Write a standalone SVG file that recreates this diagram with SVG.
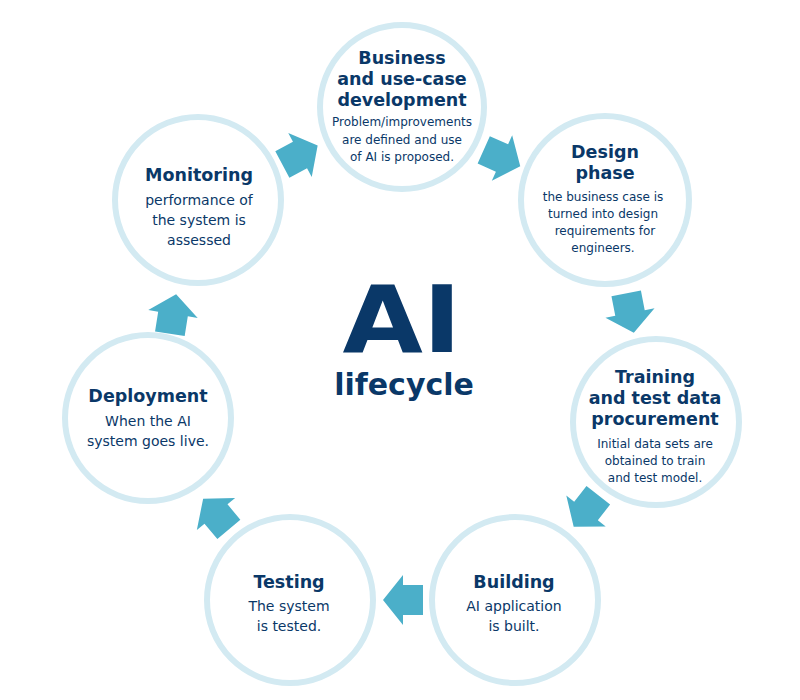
<svg xmlns="http://www.w3.org/2000/svg" width="800" height="700" viewBox="0 0 800 700">
<style>
.ring{fill:#ffffff;stroke:#d3eaf2;stroke-width:6}
.t{font-family:"DejaVu Sans",Verdana,sans-serif;font-weight:bold;font-size:17.5px;fill:#0a3868;text-anchor:middle}
.b{font-family:"DejaVu Sans",Verdana,sans-serif;font-size:12px;fill:#0a3868;text-anchor:middle}
.b14{font-family:"DejaVu Sans",Verdana,sans-serif;font-size:14px;fill:#0a3868;text-anchor:middle}
.arrow{fill:#4bafc9}
</style>
<defs>
<polygon id="arr" points="-20,-15 0,-15 0,-25 20,0 0,25 0,15 -20,15"/>
</defs>
<rect width="800" height="700" fill="#ffffff"/>
<g id="center-title">
<text x="402" y="352" font-family="DejaVu Sans,Verdana,sans-serif" font-weight="bold" font-size="92" fill="#0a3868" text-anchor="middle" textLength="119" lengthAdjust="spacingAndGlyphs">AI</text>
<text x="404" y="395" font-family="DejaVu Sans,Verdana,sans-serif" font-weight="bold" font-size="30" fill="#0a3868" text-anchor="middle">lifecycle</text>
</g>
<g id="node-business">
<circle class="ring" cx="402" cy="107" r="82"/>
<text class="t" x="402" y="64">Business</text>
<text class="t" x="402" y="85">and use-case</text>
<text class="t" x="402" y="106">development</text>
<text class="b" x="402" y="126">Problem/improvements</text>
<text class="b" x="402" y="144">are defined and use</text>
<text class="b" x="402" y="161">of AI is proposed.</text>
</g>
<g id="node-design">
<circle class="ring" cx="605" cy="200" r="84"/>
<text class="t" x="605" y="158">Design</text>
<text class="t" x="605" y="179">phase</text>
<text class="b" x="603" y="201">the business case is</text>
<text class="b" x="603" y="218">turned into design</text>
<text class="b" x="605" y="235">requirements for</text>
<text class="b" x="603" y="252">engineers.</text>
</g>
<g id="node-training">
<circle class="ring" cx="656" cy="422" r="83"/>
<text class="t" x="655" y="383">Training</text>
<text class="t" x="655" y="404">and test data</text>
<text class="t" x="655" y="425">procurement</text>
<text class="b" x="655" y="448">Initial data sets are</text>
<text class="b" x="655" y="465">obtained to train</text>
<text class="b" x="655" y="482">and test model.</text>
</g>
<g id="node-building">
<circle class="ring" cx="515" cy="600" r="83"/>
<text class="t" x="514" y="588">Building</text>
<text class="b14" x="514" y="611">AI application</text>
<text class="b14" x="514" y="631">is built.</text>
</g>
<g id="node-testing">
<circle class="ring" cx="290" cy="600" r="83"/>
<text class="t" x="289" y="588">Testing</text>
<text class="b14" x="289" y="611">The system</text>
<text class="b14" x="289" y="631">is tested.</text>
</g>
<g id="node-deployment">
<circle class="ring" cx="148" cy="418" r="83"/>
<text class="t" x="148" y="402">Deployment</text>
<text class="b14" x="148" y="426">When the AI</text>
<text class="b14" x="148" y="446">system goes live.</text>
</g>
<g id="node-monitoring">
<circle class="ring" cx="198" cy="200" r="83"/>
<text class="t" x="199" y="181">Monitoring</text>
<text class="b14" x="199" y="205">performance of</text>
<text class="b14" x="199" y="225">the system is</text>
<text class="b14" x="199" y="245">assessed</text>
</g>
<g id="connectors">
<use href="#arr" class="arrow" transform="translate(300,155) rotate(-28)"/>
<use href="#arr" class="arrow" transform="translate(502,158) rotate(24)"/>
<use href="#arr" class="arrow" transform="translate(630,313) rotate(79)"/>
<use href="#arr" class="arrow" transform="translate(586,511) rotate(128)"/>
<use href="#arr" class="arrow" transform="translate(403,600) rotate(180)"/>
<use href="#arr" class="arrow" transform="translate(216,514) rotate(230)"/>
<use href="#arr" class="arrow" transform="translate(173,314) rotate(-81)"/>
</g>
</svg>
